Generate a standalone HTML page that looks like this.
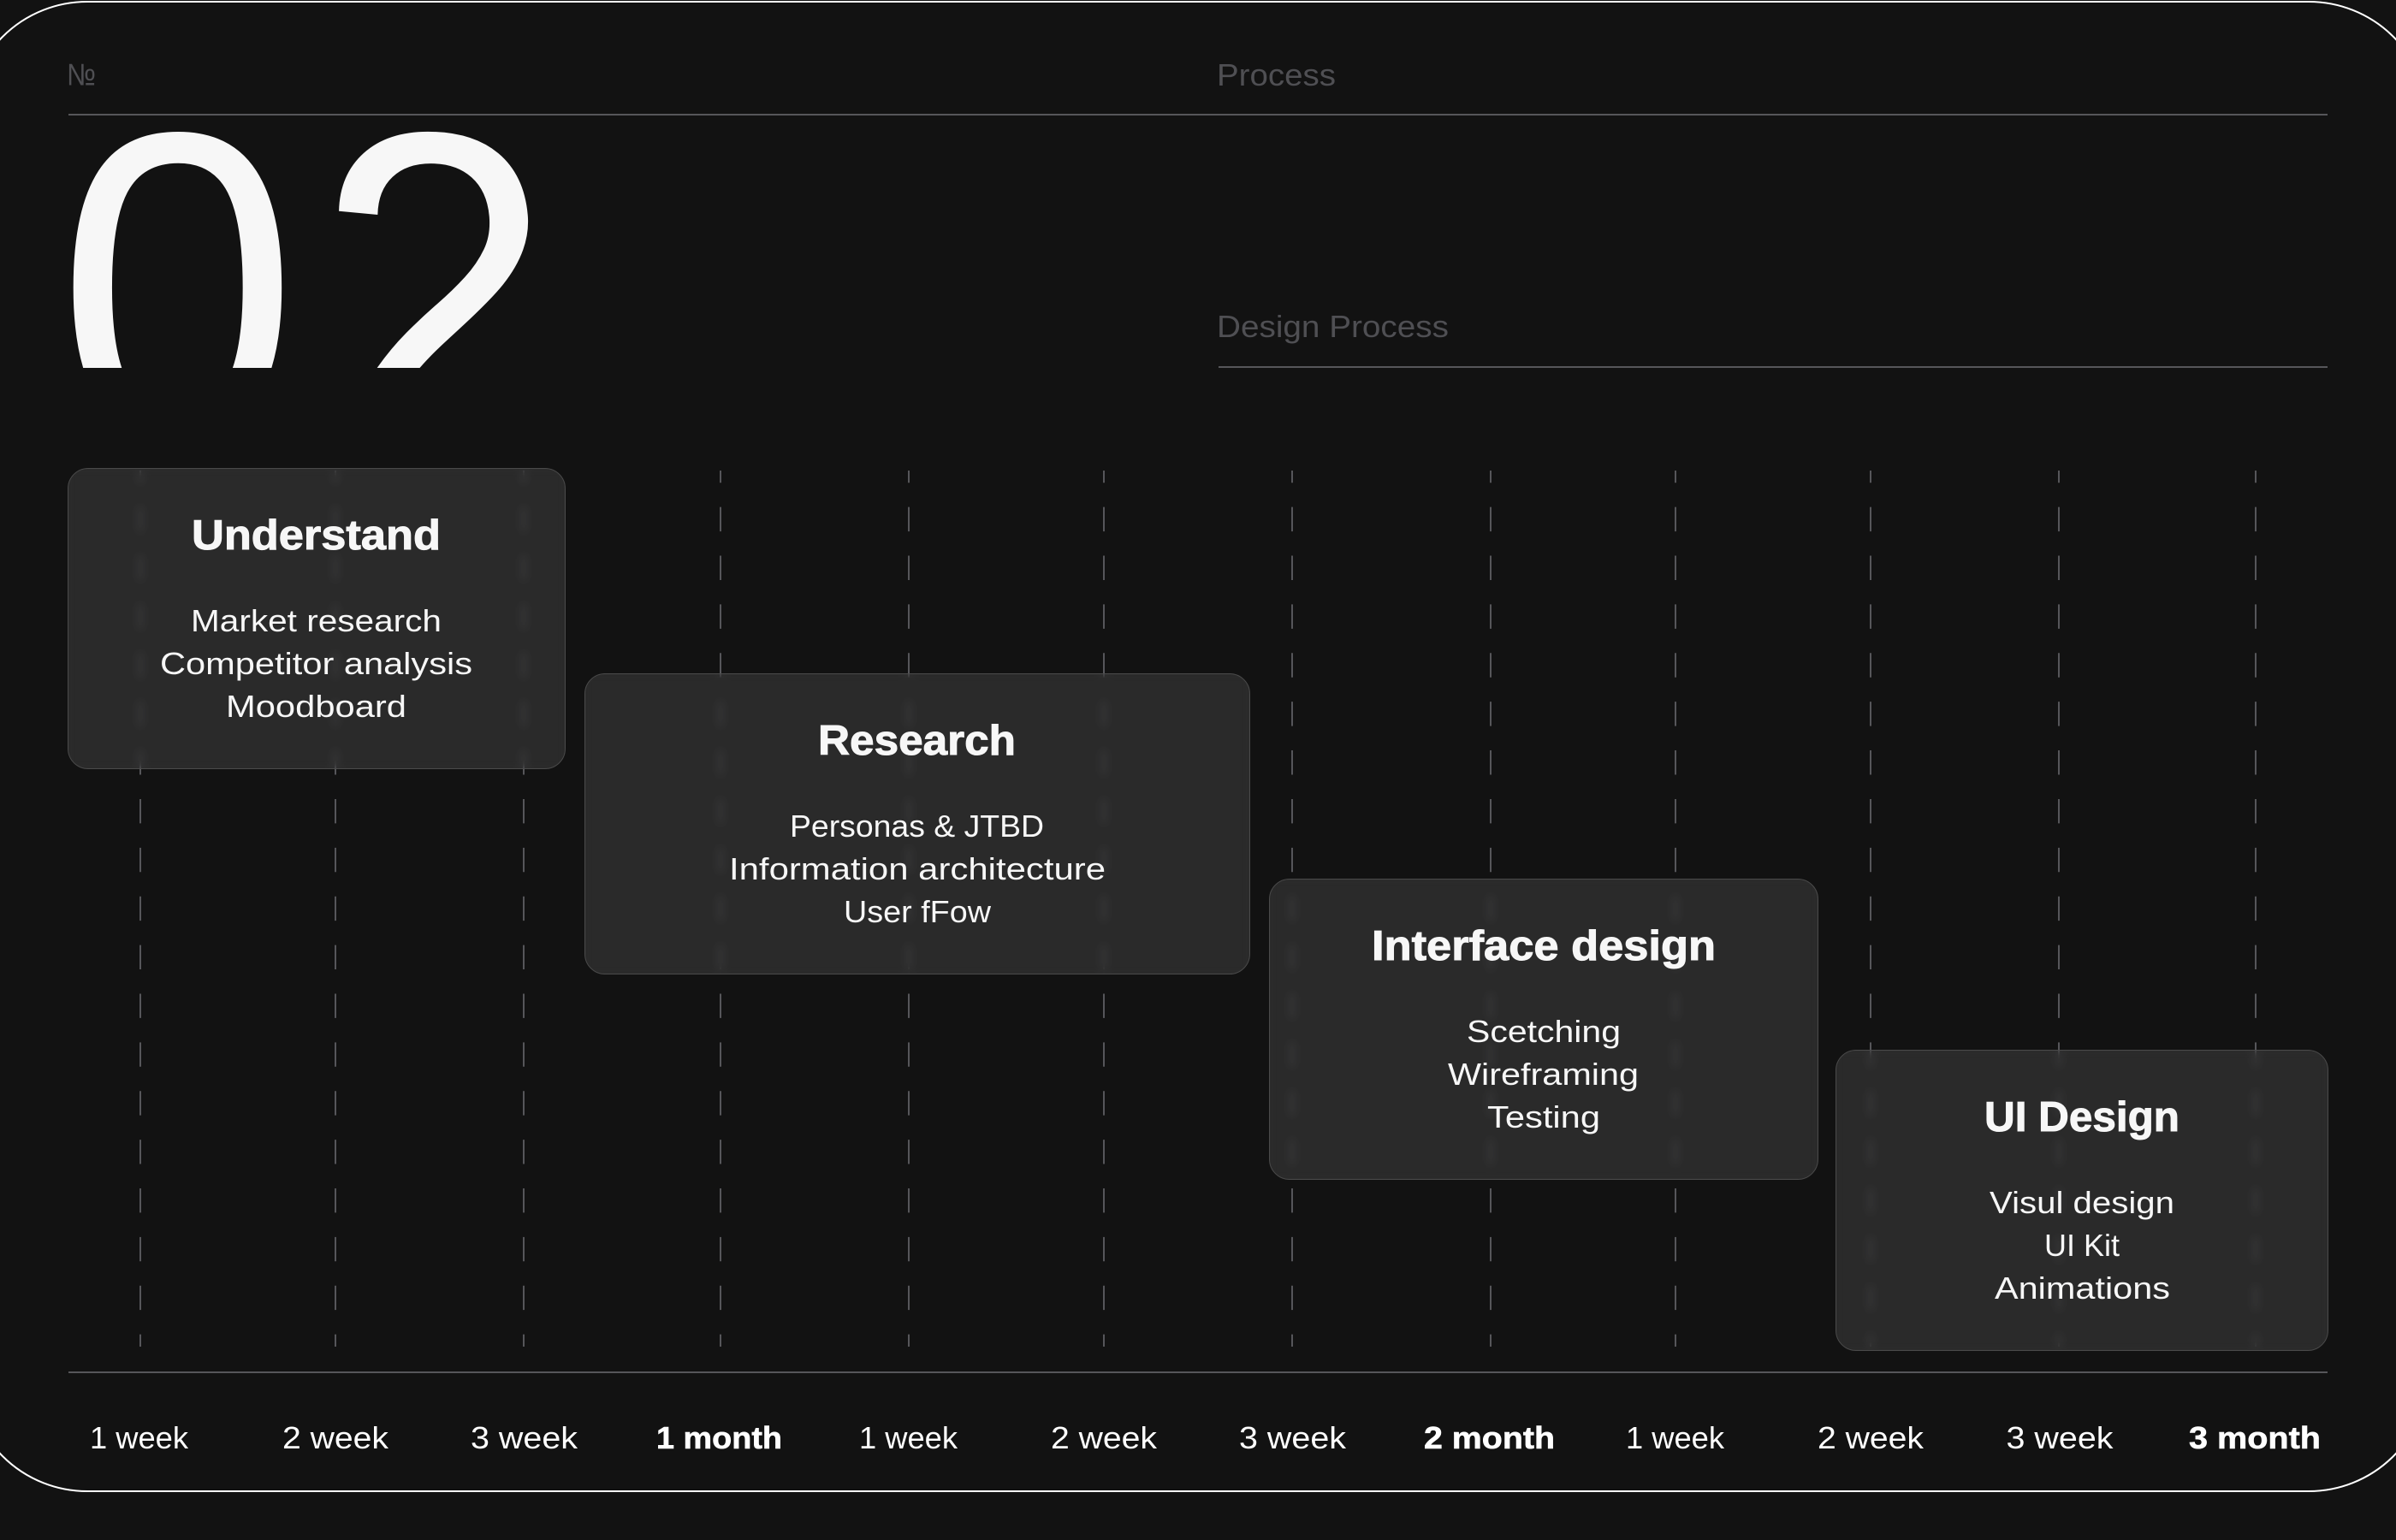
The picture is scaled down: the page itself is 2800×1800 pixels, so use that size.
<!DOCTYPE html>
<html lang="en">
<head>
<meta charset="utf-8">
<title>Design Process</title>
<style>
html,body{margin:0;padding:0;background:#121212;width:2800px;height:1800px;overflow:hidden}
svg{position:absolute;left:0;top:0}
.card{position:absolute;box-sizing:border-box;height:352px;border:1px solid #4a4a4a;border-radius:24px;background:rgba(255,255,255,.121);-webkit-backdrop-filter:blur(5px) brightness(.7);backdrop-filter:blur(5px) brightness(.7)}
text{font-family:"Liberation Sans",sans-serif}
.b{font-size:36px;fill:#f7f7f7}
.t{font-size:49px;font-weight:700;fill:#f7f7f7;stroke:#f7f7f7;stroke-width:1px}
.m{font-size:36px;font-weight:700;fill:#fff;stroke:#fff;stroke-width:.6px}
.g{font-size:36px;fill:#4f4f53}
</style>
</head>
<body>
<svg width="2800" height="1800" viewBox="0 0 2800 1800">
<defs><clipPath id="c"><rect x="0" y="100" width="800" height="330"/></clipPath></defs>
<rect width="2800" height="1800" fill="#121212"/>
<rect x="-38" y="2" width="2876" height="1741" rx="140" ry="140" fill="none" stroke="#fff" stroke-width="2"/>
<g fill="#56565a">
<rect x="80" y="133" width="2640" height="2"/>
<rect x="1424" y="428" width="1296" height="2"/>
<rect x="80" y="1603" width="2640" height="2"/>
</g>
<g stroke="#56565a" stroke-width="2" stroke-dasharray="28.44 28.44" stroke-dashoffset="14.22" fill="none">
<line x1="164" y1="550" x2="164" y2="1574"/>
<line x1="392" y1="550" x2="392" y2="1574"/>
<line x1="612" y1="550" x2="612" y2="1574"/>
<line x1="842" y1="550" x2="842" y2="1574"/>
<line x1="1062" y1="550" x2="1062" y2="1574"/>
<line x1="1290" y1="550" x2="1290" y2="1574"/>
<line x1="1510" y1="550" x2="1510" y2="1574"/>
<line x1="1742" y1="550" x2="1742" y2="1574"/>
<line x1="1958" y1="550" x2="1958" y2="1574"/>
<line x1="2186" y1="550" x2="2186" y2="1574"/>
<line x1="2406" y1="550" x2="2406" y2="1574"/>
<line x1="2636" y1="550" x2="2636" y2="1574"/>
</g>
</svg>
<div class="card" style="left:79px;top:547px;width:582px"></div>
<div class="card" style="left:683px;top:787px;width:778px"></div>
<div class="card" style="left:1483px;top:1027px;width:642px"></div>
<div class="card" style="left:2145px;top:1227px;width:576px"></div>
<svg width="2800" height="1800" viewBox="0 0 2800 1800">
<g clip-path="url(#c)" fill="#f7f7f7" style="font-size:515px">
<text transform="translate(65.8,513.6) scale(.989,1)">0</text>
<text transform="matrix(.97,0,.09,1,393,513.5)">2</text>
</g>
<text class="g" x="78" y="99.5" textLength="34" lengthAdjust="spacingAndGlyphs">№</text>
<text class="g" x="1422" y="100" textLength="139" lengthAdjust="spacingAndGlyphs">Process</text>
<text class="g" x="1422" y="394" textLength="271" lengthAdjust="spacingAndGlyphs">Design Process</text>

<text class="t" x="224" y="642" textLength="291" lengthAdjust="spacingAndGlyphs">Understand</text>
<text class="b" x="223" y="738" textLength="293" lengthAdjust="spacingAndGlyphs">Market research</text>
<text class="b" x="187" y="788" textLength="365" lengthAdjust="spacingAndGlyphs">Competitor analysis</text>
<text class="b" x="264" y="838" textLength="211" lengthAdjust="spacingAndGlyphs">Moodboard</text>

<text class="t" x="956" y="882" textLength="231" lengthAdjust="spacingAndGlyphs">Research</text>
<text class="b" x="923" y="978" textLength="297" lengthAdjust="spacingAndGlyphs">Personas &amp; JTBD</text>
<text class="b" x="852" y="1028" textLength="440" lengthAdjust="spacingAndGlyphs">Information architecture</text>
<text class="b" x="986" y="1078" textLength="172" lengthAdjust="spacingAndGlyphs">User fFow</text>

<text class="t" x="1603" y="1122" textLength="402" lengthAdjust="spacingAndGlyphs">Interface design</text>
<text class="b" x="1714" y="1218" textLength="180" lengthAdjust="spacingAndGlyphs">Scetching</text>
<text class="b" x="1692" y="1268" textLength="223" lengthAdjust="spacingAndGlyphs">Wireframing</text>
<text class="b" x="1738" y="1318" textLength="132" lengthAdjust="spacingAndGlyphs">Testing</text>

<text class="t" x="2319" y="1322" textLength="228" lengthAdjust="spacingAndGlyphs">UI Design</text>
<text class="b" x="2325" y="1418" textLength="216" lengthAdjust="spacingAndGlyphs">Visul design</text>
<text class="b" x="2389" y="1468" textLength="88" lengthAdjust="spacingAndGlyphs">UI Kit</text>
<text class="b" x="2331" y="1518" textLength="205" lengthAdjust="spacingAndGlyphs">Animations</text>

<text class="b" x="105" y="1693" textLength="115" lengthAdjust="spacingAndGlyphs" style="fill:#fff">1 week</text>
<text class="b" x="330" y="1693" textLength="124" lengthAdjust="spacingAndGlyphs" style="fill:#fff">2 week</text>
<text class="b" x="550" y="1693" textLength="125" lengthAdjust="spacingAndGlyphs" style="fill:#fff">3 week</text>
<text class="m" x="767" y="1693" textLength="147" lengthAdjust="spacingAndGlyphs">1 month</text>
<text class="b" x="1004" y="1693" textLength="115" lengthAdjust="spacingAndGlyphs" style="fill:#fff">1 week</text>
<text class="b" x="1228" y="1693" textLength="124" lengthAdjust="spacingAndGlyphs" style="fill:#fff">2 week</text>
<text class="b" x="1448" y="1693" textLength="125" lengthAdjust="spacingAndGlyphs" style="fill:#fff">3 week</text>
<text class="m" x="1664" y="1693" textLength="153" lengthAdjust="spacingAndGlyphs">2 month</text>
<text class="b" x="1900" y="1693" textLength="115" lengthAdjust="spacingAndGlyphs" style="fill:#fff">1 week</text>
<text class="b" x="2124" y="1693" textLength="124" lengthAdjust="spacingAndGlyphs" style="fill:#fff">2 week</text>
<text class="b" x="2344.5" y="1693" textLength="125" lengthAdjust="spacingAndGlyphs" style="fill:#fff">3 week</text>
<text class="m" x="2558" y="1693" textLength="154" lengthAdjust="spacingAndGlyphs">3 month</text>
</svg>
</body>
</html>
